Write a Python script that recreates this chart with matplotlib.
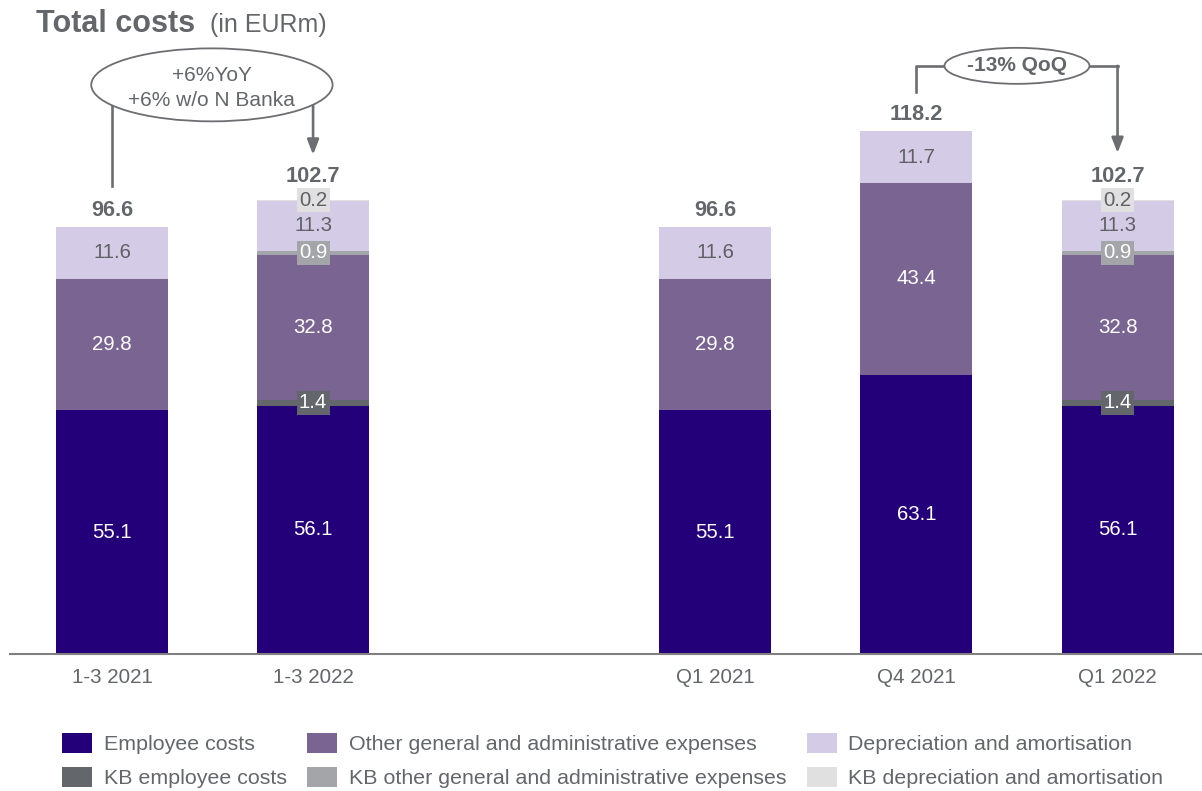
import numpy as np
import matplotlib
matplotlib.use('Agg')
import matplotlib.pyplot as plt
from matplotlib.patches import Ellipse

plt.rcParams['font.family'] = ['Liberation Sans', 'DejaVu Sans']

categories = ['1-3 2021', '1-3 2022', 'Q1 2021', 'Q4 2021', 'Q1 2022']
positions = [0, 1, 3, 4, 5]

employee = [55.1, 56.1, 55.1, 63.1, 56.1]
kb_employee = [0.0, 1.4, 0.0, 0.0, 1.4]
other_ga = [29.8, 32.8, 29.8, 43.4, 32.8]
kb_other_ga = [0.0, 0.9, 0.0, 0.0, 0.9]
depreciation = [11.6, 11.3, 11.6, 11.7, 11.3]
kb_depreciation = [0.0, 0.2, 0.0, 0.0, 0.2]
totals = [96.6, 102.7, 96.6, 118.2, 102.7]

series = [
    ('Employee costs', employee, '#23007a', 'white', False),
    ('KB employee costs', kb_employee, '#63666a', 'white', True),
    ('Other general and administrative expenses', other_ga, '#7a6491', 'white', False),
    ('KB other general and administrative expenses', kb_other_ga, '#a4a5a8', 'white', True),
    ('Depreciation and amortisation', depreciation, '#d4cce6', '#5f6064', False),
    ('KB depreciation and amortisation', kb_depreciation, '#e0e0e0', '#5f6064', True),
]

GREY = '#63666a'
LINE = '#6d6e71'

fig = plt.figure(figsize=(12.02, 7.91), dpi=100)
ax = fig.add_axes([10 / 1202, 137 / 791, 1 - 10 / 1202, 597 / 791])

bottom = np.zeros(len(positions))
for name, vals, color, tcolor, boxed in series:
    vals = np.array(vals)
    ax.bar(positions, vals, width=0.557, bottom=bottom, color=color,
           linewidth=0, label=name)
    for x, v, b in zip(positions, vals, bottom):
        if v <= 0:
            continue
        kw = {}
        if boxed:
            kw['bbox'] = dict(boxstyle='square,pad=0.12', fc=color, ec='none')
        ax.text(x, b + v / 2, f'{v:.1f}', ha='center', va='center',
                fontsize=14.7, color=tcolor, **kw)
    bottom += vals

# totals above the stacks
for x, t, kd in zip(positions, totals, kb_depreciation):
    off = 3.8 + (1.4 if kd > 0 else 0)
    ax.text(x, t + off, f'{t:.1f}', ha='center', va='center',
            fontsize=15.7, fontweight='bold', color=GREY)

ax.set_xlim(-0.507, 5.42)
ax.set_ylim(0, 135)
ax.set_xticks(positions)
ax.set_xticklabels(categories, fontsize=14.8, color=GREY)
ax.tick_params(axis='x', length=0, pad=10)
ax.set_yticks([])
for s in ['top', 'right', 'left']:
    ax.spines[s].set_visible(False)
ax.spines['bottom'].set_color('#808080')
ax.spines['bottom'].set_linewidth(1.5)

# YoY bubble
ax.add_patch(Ellipse((0.497, 128.7), 1.2, 16.5, fc='white', ec=LINE,
                     lw=1.3, clip_on=False, zorder=5))
ax.text(0.497, 130.8, '+6%YoY', ha='center', va='center', fontsize=15,
        color=GREY, zorder=6, clip_on=False)
ax.text(0.497, 125.1, '+6% w/o N Banka', ha='center', va='center',
        fontsize=15, color=GREY, zorder=6, clip_on=False)
ax.plot([positions[0], positions[0]], [totals[0] + 9.3, 124.2], color=LINE,
        lw=1.9, clip_on=False, zorder=4)
ax.annotate('', xy=(positions[1], totals[1] + 10.2), xytext=(positions[1], 124.2),
            arrowprops=dict(arrowstyle='-|>,head_length=0.9,head_width=0.35',
                            color=LINE, lw=1.9, shrinkA=0, shrinkB=0),
            annotation_clip=False)

# QoQ bubble
qx = (positions[3] + positions[4]) / 2
ax.add_patch(Ellipse((qx, 133.0), 0.721, 8.14, fc='white', ec=LINE,
                     lw=1.3, clip_on=False, zorder=5))
ax.text(qx, 133.0, '-13% QoQ', ha='center', va='center', fontsize=15,
        fontweight='bold', color=GREY, zorder=6, clip_on=False)
ax.plot([positions[3], positions[3], qx - 0.36], [totals[3] + 8.9, 133.0, 133.0],
        color=LINE, lw=1.9, clip_on=False, zorder=4)
ax.plot([qx + 0.36, positions[4]], [133.0, 133.0], color=LINE, lw=1.9,
        clip_on=False, zorder=4)
ax.annotate('', xy=(positions[4], totals[4] + 10.6), xytext=(positions[4], 133.0),
            arrowprops=dict(arrowstyle='-|>,head_length=0.9,head_width=0.35',
                            color=LINE, lw=1.9, shrinkA=0, shrinkB=0),
            annotation_clip=False)

# title
fig.text(36 / 1202, 1 - 32 / 791, 'Total costs', fontsize=22, fontweight='bold',
         color=GREY, va='baseline')
fig.text(210 / 1202, 1 - 32 / 791, '(in EURm)', fontsize=18, color=GREY,
         va='baseline')

handles, labels = ax.get_legend_handles_labels()
leg = fig.legend(handles, labels, ncol=3, loc='upper left',
                 bbox_to_anchor=(62 / 1202, 1 - 733 / 791), frameon=False,
                 fontsize=15.4, handlelength=1.4, handleheight=1.07,
                 handletextpad=0.55, columnspacing=0.95, labelspacing=0.58,
                 borderpad=0, borderaxespad=0)
for t in leg.get_texts():
    t.set_color(GREY)

fig.savefig('out.png', dpi=100)
